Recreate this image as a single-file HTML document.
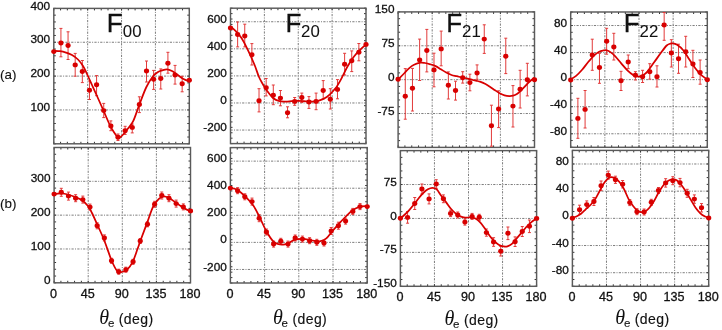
<!DOCTYPE html>
<html><head><meta charset="utf-8"><style>
html,body{margin:0;padding:0;background:#fff;}
body{width:722px;height:330px;overflow:hidden;position:relative;}
svg{position:absolute;left:0;top:0;filter:blur(0.35px);}
text{font-family:"Liberation Sans",sans-serif;fill:#111;stroke:#111;stroke-width:0.3px;}
.grid{fill:none;stroke:#666666;stroke-width:0.85;stroke-dasharray:2.2 1.3 1 1.3;}
.tick{fill:none;stroke:#333;stroke-width:1.0;}
.frame{fill:none;stroke:#5a5a5a;stroke-width:1.45;}
.err{fill:none;stroke:#e23a3a;stroke-width:1.0;}
.fit{fill:none;stroke:#d80000;stroke-width:1.75;stroke-linejoin:round;}
.mk ellipse{fill:#d80000;}
.yl{font-size:11.8px;text-anchor:end;}
.xl{font-size:12.6px;text-anchor:middle;}
.tF{font-size:26px;}
.tS{font-size:16.8px;stroke-width:0.05px;}
.th{font-family:"Liberation Serif",serif;font-style:italic;font-size:20px;stroke-width:0;}
.the{font-size:11.5px;stroke-width:0.1px;}
.deg{font-size:14px;letter-spacing:0.4px;stroke-width:0.15px;}
.lab{font-size:13.4px;stroke-width:0.12px;}
</style></head><body>
<svg width="722" height="330" viewBox="0 0 722 330">
<text x="0" y="79.4" class="lab">(a)</text>
<text x="0" y="208.1" class="lab">(b)</text>
<clipPath id="c1a"><rect x="53.8" y="8.4" width="135.5" height="135.4"/></clipPath>
<path d="M87.67,8.4V143.8M121.55,8.4V143.8M155.43,8.4V143.8M53.8,109.95H189.3M53.8,76.1H189.3M53.8,42.25H189.3" class="grid"/>
<path d="M53.8,143.8v-2.0M53.8,8.4v2.0M60.57,143.8v-2.0M60.57,8.4v2.0M67.35,143.8v-2.0M67.35,8.4v2.0M74.12,143.8v-2.0M74.12,8.4v2.0M80.9,143.8v-2.0M80.9,8.4v2.0M87.67,143.8v-2.0M87.67,8.4v2.0M94.45,143.8v-2.0M94.45,8.4v2.0M101.22,143.8v-2.0M101.22,8.4v2.0M108,143.8v-2.0M108,8.4v2.0M114.78,143.8v-2.0M114.78,8.4v2.0M121.55,143.8v-2.0M121.55,8.4v2.0M128.32,143.8v-2.0M128.32,8.4v2.0M135.1,143.8v-2.0M135.1,8.4v2.0M141.88,143.8v-2.0M141.88,8.4v2.0M148.65,143.8v-2.0M148.65,8.4v2.0M155.43,143.8v-2.0M155.43,8.4v2.0M162.2,143.8v-2.0M162.2,8.4v2.0M168.97,143.8v-2.0M168.97,8.4v2.0M175.75,143.8v-2.0M175.75,8.4v2.0M182.52,143.8v-2.0M182.52,8.4v2.0M189.3,143.8v-2.0M189.3,8.4v2.0M53.8,143.8h2.0M189.3,143.8h-2.0M53.8,137.03h2.0M189.3,137.03h-2.0M53.8,130.26h2.0M189.3,130.26h-2.0M53.8,123.49h2.0M189.3,123.49h-2.0M53.8,116.72h2.0M189.3,116.72h-2.0M53.8,109.95h2.0M189.3,109.95h-2.0M53.8,103.18h2.0M189.3,103.18h-2.0M53.8,96.41h2.0M189.3,96.41h-2.0M53.8,89.64h2.0M189.3,89.64h-2.0M53.8,82.87h2.0M189.3,82.87h-2.0M53.8,76.1h2.0M189.3,76.1h-2.0M53.8,69.33h2.0M189.3,69.33h-2.0M53.8,62.56h2.0M189.3,62.56h-2.0M53.8,55.79h2.0M189.3,55.79h-2.0M53.8,49.02h2.0M189.3,49.02h-2.0M53.8,42.25h2.0M189.3,42.25h-2.0M53.8,35.48h2.0M189.3,35.48h-2.0M53.8,28.71h2.0M189.3,28.71h-2.0M53.8,21.94h2.0M189.3,21.94h-2.0M53.8,15.17h2.0M189.3,15.17h-2.0M53.8,8.4h2.0M189.3,8.4h-2.0" class="tick"/>
<rect x="53.8" y="8.4" width="135.5" height="135.4" class="frame"/>
<g clip-path="url(#c1a)">
<path d="M60.93,28.4V56.8M59.43,28.4h3M59.43,56.8h3M68.06,31.8V59.5M66.56,31.8h3M66.56,59.5h3M75.19,53.4V76.2M73.69,53.4h3M73.69,76.2h3M82.33,60.5V82.6M80.83,60.5h3M80.83,82.6h3M89.46,81V99.5M87.96,81h3M87.96,99.5h3M96.59,75.6V95.7M95.09,75.6h3M95.09,95.7h3M103.72,103.4V117.6M102.22,103.4h3M102.22,117.6h3M110.85,120.9V130.7M109.35,120.9h3M109.35,130.7h3M117.98,134V140.5M116.48,134h3M116.48,140.5h3M125.12,126.3V134.4M123.62,126.3h3M123.62,134.4h3M132.25,124V132.9M130.75,124h3M130.75,132.9h3M139.38,96.8V112.6M137.88,96.8h3M137.88,112.6h3M146.51,61V82M145.01,61h3M145.01,82h3M153.64,70.4V89.4M152.14,70.4h3M152.14,89.4h3M160.77,68.9V89M159.27,68.9h3M159.27,89h3M167.91,52.3V73.2M166.41,52.3h3M166.41,73.2h3M175.04,65.4V84.1M173.54,65.4h3M173.54,84.1h3M182.17,76.3V91.8M180.67,76.3h3M180.67,91.8h3" class="err"/>
<path d="M53.8,50.8 C54.83,50.87 57.97,50.9 60,51.2 C62.03,51.5 64,51.97 66,52.6 C68,53.23 70,53.85 72,55 C74,56.15 76.17,57.67 78,59.5 C79.83,61.33 81.5,63.58 83,66 C84.5,68.42 85.5,70.83 87,74 C88.5,77.17 90.33,81.33 92,85 C93.67,88.67 95.08,91.73 97,96 C98.92,100.27 101.33,105.68 103.5,110.6 C105.67,115.52 108.25,121.9 110,125.5 C111.75,129.1 112.67,130.18 114,132.2 C115.33,134.22 116.83,136.87 118,137.6 C119.17,138.33 119.92,137.37 121,136.6 C122.08,135.83 123.33,134.35 124.5,133 C125.67,131.65 126.53,130.52 128,128.5 C129.47,126.48 131.33,125.08 133.3,120.9 C135.27,116.72 137.62,109.05 139.8,103.4 C141.98,97.75 144.2,91.53 146.4,87 C148.6,82.47 151.07,78.7 153,76.2 C154.93,73.7 156.5,72.97 158,72 C159.5,71.03 160.5,70.85 162,70.4 C163.5,69.95 165.33,69.2 167,69.3 C168.67,69.4 170.33,70.13 172,71 C173.67,71.87 175.08,73.15 177,74.5 C178.92,75.85 181.5,77.97 183.5,79.1 C185.5,80.23 188.08,80.93 189,81.3" class="fit"/>
</g>
<g class="mk"><ellipse cx="53.8" cy="51.6" rx="2.6" ry="2.45"/><ellipse cx="60.93" cy="43" rx="2.6" ry="2.45"/><ellipse cx="68.06" cy="45.5" rx="2.6" ry="2.45"/><ellipse cx="75.19" cy="64.9" rx="2.6" ry="2.45"/><ellipse cx="82.33" cy="71.5" rx="2.6" ry="2.45"/><ellipse cx="89.46" cy="90.3" rx="2.6" ry="2.45"/><ellipse cx="96.59" cy="84.8" rx="2.6" ry="2.45"/><ellipse cx="103.72" cy="110.6" rx="2.6" ry="2.45"/><ellipse cx="110.85" cy="125.9" rx="2.6" ry="2.45"/><ellipse cx="117.98" cy="137.2" rx="2.6" ry="2.45"/><ellipse cx="125.12" cy="130.7" rx="2.6" ry="2.45"/><ellipse cx="132.25" cy="127.4" rx="2.6" ry="2.45"/><ellipse cx="139.38" cy="104.5" rx="2.6" ry="2.45"/><ellipse cx="146.51" cy="71" rx="2.6" ry="2.45"/><ellipse cx="153.64" cy="79.3" rx="2.6" ry="2.45"/><ellipse cx="160.77" cy="78.5" rx="2.6" ry="2.45"/><ellipse cx="167.91" cy="63.2" rx="2.6" ry="2.45"/><ellipse cx="175.04" cy="75" rx="2.6" ry="2.45"/><ellipse cx="182.17" cy="83.7" rx="2.6" ry="2.45"/><ellipse cx="189.3" cy="80.2" rx="2.6" ry="2.45"/></g>
<text x="50.2" y="111.05" class="yl">100</text>
<text x="50.2" y="77.2" class="yl">200</text>
<text x="50.2" y="43.35" class="yl">300</text>
<text x="50.2" y="9.5" class="yl">400</text>
<text x="106.7" y="31.5" class="tF">F</text>
<clipPath id="c2a"><rect x="230.5" y="8.2" width="135.5" height="135.4"/></clipPath>
<path d="M264.38,8.2V143.6M298.25,8.2V143.6M332.12,8.2V143.6M230.5,130.06H366M230.5,102.98H366M230.5,75.9H366M230.5,48.82H366M230.5,21.74H366" class="grid"/>
<path d="M230.5,143.6v-2.0M230.5,8.2v2.0M237.28,143.6v-2.0M237.28,8.2v2.0M244.05,143.6v-2.0M244.05,8.2v2.0M250.82,143.6v-2.0M250.82,8.2v2.0M257.6,143.6v-2.0M257.6,8.2v2.0M264.38,143.6v-2.0M264.38,8.2v2.0M271.15,143.6v-2.0M271.15,8.2v2.0M277.93,143.6v-2.0M277.93,8.2v2.0M284.7,143.6v-2.0M284.7,8.2v2.0M291.48,143.6v-2.0M291.48,8.2v2.0M298.25,143.6v-2.0M298.25,8.2v2.0M305.02,143.6v-2.0M305.02,8.2v2.0M311.8,143.6v-2.0M311.8,8.2v2.0M318.57,143.6v-2.0M318.57,8.2v2.0M325.35,143.6v-2.0M325.35,8.2v2.0M332.12,143.6v-2.0M332.12,8.2v2.0M338.9,143.6v-2.0M338.9,8.2v2.0M345.68,143.6v-2.0M345.68,8.2v2.0M352.45,143.6v-2.0M352.45,8.2v2.0M359.23,143.6v-2.0M359.23,8.2v2.0M366,143.6v-2.0M366,8.2v2.0M230.5,143.6h2.0M366,143.6h-2.0M230.5,138.18h2.0M366,138.18h-2.0M230.5,132.77h2.0M366,132.77h-2.0M230.5,127.35h2.0M366,127.35h-2.0M230.5,121.94h2.0M366,121.94h-2.0M230.5,116.52h2.0M366,116.52h-2.0M230.5,111.1h2.0M366,111.1h-2.0M230.5,105.69h2.0M366,105.69h-2.0M230.5,100.27h2.0M366,100.27h-2.0M230.5,94.86h2.0M366,94.86h-2.0M230.5,89.44h2.0M366,89.44h-2.0M230.5,84.02h2.0M366,84.02h-2.0M230.5,78.61h2.0M366,78.61h-2.0M230.5,73.19h2.0M366,73.19h-2.0M230.5,67.78h2.0M366,67.78h-2.0M230.5,62.36h2.0M366,62.36h-2.0M230.5,56.94h2.0M366,56.94h-2.0M230.5,51.53h2.0M366,51.53h-2.0M230.5,46.11h2.0M366,46.11h-2.0M230.5,40.7h2.0M366,40.7h-2.0M230.5,35.28h2.0M366,35.28h-2.0M230.5,29.86h2.0M366,29.86h-2.0M230.5,24.45h2.0M366,24.45h-2.0M230.5,19.03h2.0M366,19.03h-2.0M230.5,13.62h2.0M366,13.62h-2.0M230.5,8.2h2.0M366,8.2h-2.0" class="tick"/>
<rect x="230.5" y="8.2" width="135.5" height="135.4" class="frame"/>
<g clip-path="url(#c2a)">
<path d="M237.63,22V46.9M236.13,22h3M236.13,46.9h3M244.76,24.2V46.9M243.26,24.2h3M243.26,46.9h3M251.89,43.6V65M250.39,43.6h3M250.39,65h3M259.03,88.7V111.9M257.53,88.7h3M257.53,111.9h3M266.16,78.5V95.9M264.66,78.5h3M264.66,95.9h3M273.29,85V104.7M271.79,85h3M271.79,104.7h3M280.42,90.5V105.8M278.92,90.5h3M278.92,105.8h3M287.55,106.8V117.8M286.05,106.8h3M286.05,117.8h3M294.68,97.5V105.3M293.18,97.5h3M293.18,105.3h3M301.82,93.1V102.5M300.32,93.1h3M300.32,102.5h3M308.95,96.6V108.4M307.45,96.6h3M307.45,108.4h3M316.08,93.1V109.7M314.58,93.1h3M314.58,109.7h3M323.21,80.6V98.8M321.71,80.6h3M321.71,98.8h3M330.34,88.7V109M328.84,88.7h3M328.84,109h3M337.47,79.6V98.8M335.97,79.6h3M335.97,98.8h3M344.61,53.3V75M343.11,53.3h3M343.11,75h3M351.74,50.9V71.6M350.24,50.9h3M350.24,71.6h3M358.87,43.5V60.8M357.37,43.5h3M357.37,60.8h3" class="err"/>
<path d="M230.5,26.8 C231.2,27.35 232.9,28.27 234.7,30.1 C236.5,31.93 239.12,34.52 241.3,37.8 C243.48,41.08 245.62,45.35 247.8,49.8 C249.98,54.25 252.53,59.97 254.4,64.5 C256.27,69.03 257.57,73.67 259,77 C260.43,80.33 261.77,82.33 263,84.5 C264.23,86.67 264.73,87.75 266.4,90 C268.07,92.25 270.82,96.13 273,98 C275.18,99.87 277.33,100.6 279.5,101.2 C281.67,101.8 284,101.6 286,101.6 C288,101.6 289.5,101.33 291.5,101.2 C293.5,101.07 295.4,100.78 298,100.8 C300.6,100.82 304.6,101.18 307.1,101.3 C309.6,101.42 311.18,101.55 313,101.5 C314.82,101.45 315.7,101.75 318,101 C320.3,100.25 323.88,99.12 326.8,97 C329.72,94.88 332.97,91.57 335.5,88.3 C338.03,85.03 340,81.03 342,77.4 C344,73.77 345.5,69.98 347.5,66.5 C349.5,63.02 351.82,59.37 354,56.5 C356.18,53.63 358.6,51.28 360.6,49.3 C362.6,47.32 365.1,45.38 366,44.6" class="fit"/>
</g>
<g class="mk"><ellipse cx="230.5" cy="27.9" rx="2.6" ry="2.45"/><ellipse cx="237.63" cy="34.5" rx="2.6" ry="2.45"/><ellipse cx="244.76" cy="36" rx="2.6" ry="2.45"/><ellipse cx="251.89" cy="54.8" rx="2.6" ry="2.45"/><ellipse cx="259.03" cy="100.7" rx="2.6" ry="2.45"/><ellipse cx="266.16" cy="87.8" rx="2.6" ry="2.45"/><ellipse cx="273.29" cy="95.3" rx="2.6" ry="2.45"/><ellipse cx="280.42" cy="98.1" rx="2.6" ry="2.45"/><ellipse cx="287.55" cy="112.7" rx="2.6" ry="2.45"/><ellipse cx="294.68" cy="101.4" rx="2.6" ry="2.45"/><ellipse cx="301.82" cy="97.5" rx="2.6" ry="2.45"/><ellipse cx="308.95" cy="102" rx="2.6" ry="2.45"/><ellipse cx="316.08" cy="101.4" rx="2.6" ry="2.45"/><ellipse cx="323.21" cy="90.5" rx="2.6" ry="2.45"/><ellipse cx="330.34" cy="99.2" rx="2.6" ry="2.45"/><ellipse cx="337.47" cy="89.4" rx="2.6" ry="2.45"/><ellipse cx="344.61" cy="64.2" rx="2.6" ry="2.45"/><ellipse cx="351.74" cy="60.8" rx="2.6" ry="2.45"/><ellipse cx="358.87" cy="52.2" rx="2.6" ry="2.45"/><ellipse cx="366" cy="44.4" rx="2.6" ry="2.45"/></g>
<text x="226.9" y="131.16" class="yl">-200</text>
<text x="226.9" y="104.08" class="yl">0</text>
<text x="226.9" y="77" class="yl">200</text>
<text x="226.9" y="49.92" class="yl">400</text>
<text x="226.9" y="22.84" class="yl">600</text>
<text x="285.6" y="31.5" class="tF">F</text>
<clipPath id="c3a"><rect x="398.1" y="11.9" width="136.4" height="135.5"/></clipPath>
<path d="M432.2,11.9V147.4M466.3,11.9V147.4M500.4,11.9V147.4M398.1,113.53H534.5M398.1,79.65H534.5M398.1,45.78H534.5" class="grid"/>
<path d="M398.1,147.4v-2.0M398.1,11.9v2.0M404.92,147.4v-2.0M404.92,11.9v2.0M411.74,147.4v-2.0M411.74,11.9v2.0M418.56,147.4v-2.0M418.56,11.9v2.0M425.38,147.4v-2.0M425.38,11.9v2.0M432.2,147.4v-2.0M432.2,11.9v2.0M439.02,147.4v-2.0M439.02,11.9v2.0M445.84,147.4v-2.0M445.84,11.9v2.0M452.66,147.4v-2.0M452.66,11.9v2.0M459.48,147.4v-2.0M459.48,11.9v2.0M466.3,147.4v-2.0M466.3,11.9v2.0M473.12,147.4v-2.0M473.12,11.9v2.0M479.94,147.4v-2.0M479.94,11.9v2.0M486.76,147.4v-2.0M486.76,11.9v2.0M493.58,147.4v-2.0M493.58,11.9v2.0M500.4,147.4v-2.0M500.4,11.9v2.0M507.22,147.4v-2.0M507.22,11.9v2.0M514.04,147.4v-2.0M514.04,11.9v2.0M520.86,147.4v-2.0M520.86,11.9v2.0M527.68,147.4v-2.0M527.68,11.9v2.0M534.5,147.4v-2.0M534.5,11.9v2.0M398.1,147.4h2.0M534.5,147.4h-2.0M398.1,140.62h2.0M534.5,140.62h-2.0M398.1,133.85h2.0M534.5,133.85h-2.0M398.1,127.08h2.0M534.5,127.08h-2.0M398.1,120.3h2.0M534.5,120.3h-2.0M398.1,113.53h2.0M534.5,113.53h-2.0M398.1,106.75h2.0M534.5,106.75h-2.0M398.1,99.98h2.0M534.5,99.98h-2.0M398.1,93.2h2.0M534.5,93.2h-2.0M398.1,86.43h2.0M534.5,86.43h-2.0M398.1,79.65h2.0M534.5,79.65h-2.0M398.1,72.88h2.0M534.5,72.88h-2.0M398.1,66.1h2.0M534.5,66.1h-2.0M398.1,59.33h2.0M534.5,59.33h-2.0M398.1,52.55h2.0M534.5,52.55h-2.0M398.1,45.78h2.0M534.5,45.78h-2.0M398.1,39h2.0M534.5,39h-2.0M398.1,32.23h2.0M534.5,32.23h-2.0M398.1,25.45h2.0M534.5,25.45h-2.0M398.1,18.68h2.0M534.5,18.68h-2.0M398.1,11.9h2.0M534.5,11.9h-2.0" class="tick"/>
<rect x="398.1" y="11.9" width="136.4" height="135.5" class="frame"/>
<g clip-path="url(#c3a)">
<path d="M405.28,68.6V119.2M403.78,68.6h3M403.78,119.2h3M412.46,68.4V111M410.96,68.4h3M410.96,111h3M419.64,39.1V80.5M418.14,39.1h3M418.14,80.5h3M426.82,29.4V71.9M425.32,29.4h3M425.32,71.9h3M433.99,53.2V86.8M432.49,53.2h3M432.49,86.8h3M441.17,31.1V65.8M439.67,31.1h3M439.67,65.8h3M448.35,71.9V99M446.85,71.9h3M446.85,99h3M455.53,81.2V100.1M454.03,81.2h3M454.03,100.1h3M462.71,71.7V83.1M461.21,71.7h3M461.21,83.1h3M469.89,74.2V90.8M468.39,74.2h3M468.39,90.8h3M477.07,64.9V79.3M475.57,64.9h3M475.57,79.3h3M484.25,24.8V53.4M482.75,24.8h3M482.75,53.4h3M491.43,105.2V146.2M489.93,105.2h3M489.93,146.2h3M498.61,90.8V127.6M497.11,90.8h3M497.11,127.6h3M505.78,38.2V73.6M504.28,38.2h3M504.28,73.6h3M512.96,85.6V127M511.46,85.6h3M511.46,127h3M520.14,70.3V108M518.64,70.3h3M518.64,108h3M527.32,63.3V95.9M525.82,63.3h3M525.82,95.9h3" class="err"/>
<path d="M398.2,79.3 C399.25,78.25 402.7,74.83 404.5,73 C406.3,71.17 407.42,69.67 409,68.3 C410.58,66.93 412.07,65.75 414,64.8 C415.93,63.85 418.77,62.9 420.6,62.6 C422.43,62.3 423.38,62.72 425,63 C426.62,63.28 428.53,63.78 430.3,64.3 C432.07,64.82 433.83,65.27 435.6,66.1 C437.37,66.93 439.13,68.23 440.9,69.3 C442.67,70.37 444.43,71.55 446.2,72.5 C447.97,73.45 449.73,74.38 451.5,75 C453.27,75.62 455.02,75.78 456.8,76.2 C458.58,76.62 460.42,77.1 462.2,77.5 C463.98,77.9 465.73,78.18 467.5,78.6 C469.27,79.02 471.3,79.63 472.8,80 C474.3,80.37 475.2,80.48 476.5,80.8 C477.8,81.12 479.1,81.37 480.6,81.9 C482.1,82.43 483.9,83.17 485.5,84 C487.1,84.83 488.62,85.87 490.2,86.9 C491.78,87.93 493.42,89.15 495,90.2 C496.58,91.25 498.12,92.35 499.7,93.2 C501.28,94.05 502.9,94.82 504.5,95.3 C506.1,95.78 507.88,96.03 509.3,96.1 C510.72,96.17 511.73,96.05 513,95.7 C514.27,95.35 515.65,94.78 516.9,94 C518.15,93.22 519.23,92.18 520.5,91 C521.77,89.82 523.17,88.3 524.5,86.9 C525.83,85.5 527.22,83.87 528.5,82.6 C529.78,81.33 531.25,80.13 532.2,79.3 C533.15,78.47 533.87,77.88 534.2,77.6" class="fit"/>
</g>
<g class="mk"><ellipse cx="398.1" cy="79.3" rx="2.6" ry="2.45"/><ellipse cx="405.28" cy="96.2" rx="2.6" ry="2.45"/><ellipse cx="412.46" cy="88.2" rx="2.6" ry="2.45"/><ellipse cx="419.64" cy="59.9" rx="2.6" ry="2.45"/><ellipse cx="426.82" cy="50.5" rx="2.6" ry="2.45"/><ellipse cx="433.99" cy="69.9" rx="2.6" ry="2.45"/><ellipse cx="441.17" cy="48.9" rx="2.6" ry="2.45"/><ellipse cx="448.35" cy="85.3" rx="2.6" ry="2.45"/><ellipse cx="455.53" cy="90.5" rx="2.6" ry="2.45"/><ellipse cx="462.71" cy="77.8" rx="2.6" ry="2.45"/><ellipse cx="469.89" cy="82.6" rx="2.6" ry="2.45"/><ellipse cx="477.07" cy="73" rx="2.6" ry="2.45"/><ellipse cx="484.25" cy="39.1" rx="2.6" ry="2.45"/><ellipse cx="491.43" cy="125.8" rx="2.6" ry="2.45"/><ellipse cx="498.61" cy="109" rx="2.6" ry="2.45"/><ellipse cx="505.78" cy="56.3" rx="2.6" ry="2.45"/><ellipse cx="512.96" cy="106.1" rx="2.6" ry="2.45"/><ellipse cx="520.14" cy="89.2" rx="2.6" ry="2.45"/><ellipse cx="527.32" cy="79.7" rx="2.6" ry="2.45"/><ellipse cx="534.5" cy="79.7" rx="2.6" ry="2.45"/></g>
<text x="394.5" y="114.62" class="yl">-75</text>
<text x="394.5" y="80.75" class="yl">0</text>
<text x="394.5" y="46.88" class="yl">75</text>
<text x="394.5" y="12.5" class="yl">150</text>
<text x="446.2" y="31.5" class="tF">F</text>
<clipPath id="c4a"><rect x="570.7" y="12" width="136.6" height="135.3"/></clipPath>
<path d="M604.85,12V147.3M639,12V147.3M673.15,12V147.3M570.7,133.77H707.3M570.7,106.71H707.3M570.7,79.65H707.3M570.7,52.59H707.3M570.7,25.53H707.3" class="grid"/>
<path d="M570.7,147.3v-2.0M570.7,12v2.0M577.53,147.3v-2.0M577.53,12v2.0M584.36,147.3v-2.0M584.36,12v2.0M591.19,147.3v-2.0M591.19,12v2.0M598.02,147.3v-2.0M598.02,12v2.0M604.85,147.3v-2.0M604.85,12v2.0M611.68,147.3v-2.0M611.68,12v2.0M618.51,147.3v-2.0M618.51,12v2.0M625.34,147.3v-2.0M625.34,12v2.0M632.17,147.3v-2.0M632.17,12v2.0M639,147.3v-2.0M639,12v2.0M645.83,147.3v-2.0M645.83,12v2.0M652.66,147.3v-2.0M652.66,12v2.0M659.49,147.3v-2.0M659.49,12v2.0M666.32,147.3v-2.0M666.32,12v2.0M673.15,147.3v-2.0M673.15,12v2.0M679.98,147.3v-2.0M679.98,12v2.0M686.81,147.3v-2.0M686.81,12v2.0M693.64,147.3v-2.0M693.64,12v2.0M700.47,147.3v-2.0M700.47,12v2.0M707.3,147.3v-2.0M707.3,12v2.0M570.7,147.3h2.0M707.3,147.3h-2.0M570.7,140.54h2.0M707.3,140.54h-2.0M570.7,133.77h2.0M707.3,133.77h-2.0M570.7,127.01h2.0M707.3,127.01h-2.0M570.7,120.24h2.0M707.3,120.24h-2.0M570.7,113.48h2.0M707.3,113.48h-2.0M570.7,106.71h2.0M707.3,106.71h-2.0M570.7,99.95h2.0M707.3,99.95h-2.0M570.7,93.18h2.0M707.3,93.18h-2.0M570.7,86.42h2.0M707.3,86.42h-2.0M570.7,79.65h2.0M707.3,79.65h-2.0M570.7,72.89h2.0M707.3,72.89h-2.0M570.7,66.12h2.0M707.3,66.12h-2.0M570.7,59.36h2.0M707.3,59.36h-2.0M570.7,52.59h2.0M707.3,52.59h-2.0M570.7,45.83h2.0M707.3,45.83h-2.0M570.7,39.06h2.0M707.3,39.06h-2.0M570.7,32.3h2.0M707.3,32.3h-2.0M570.7,25.53h2.0M707.3,25.53h-2.0M570.7,18.77h2.0M707.3,18.77h-2.0M570.7,12h2.0M707.3,12h-2.0" class="tick"/>
<rect x="570.7" y="12" width="136.6" height="135.3" class="frame"/>
<g clip-path="url(#c4a)">
<path d="M577.89,98.3V138.3M576.39,98.3h3M576.39,138.3h3M585.08,90.5V128M583.58,90.5h3M583.58,128h3M592.27,39.2V70.3M590.77,39.2h3M590.77,70.3h3M599.46,53.3V83.3M597.96,53.3h3M597.96,83.3h3M606.65,28.3V54.2M605.15,28.3h3M605.15,54.2h3M613.84,33.3V60M612.34,33.3h3M612.34,60h3M621.03,71.3V90.5M619.53,71.3h3M619.53,90.5h3M628.22,55V68.7M626.72,55h3M626.72,68.7h3M635.41,71.7V80M633.91,71.7h3M633.91,80h3M642.59,70.3V82.5M641.09,70.3h3M641.09,82.5h3M649.78,63.7V79.2M648.28,63.7h3M648.28,79.2h3M656.97,65.8V87M655.47,65.8h3M655.47,87h3M664.16,12.5V40.3M662.66,12.5h3M662.66,40.3h3M671.35,39.7V67M669.85,39.7h3M669.85,67h3M678.54,44.2V73.3M677.04,44.2h3M677.04,73.3h3M685.73,36.3V67M684.23,36.3h3M684.23,67h3M692.92,50.3V77.5M691.42,50.3h3M691.42,77.5h3M700.11,60V84.2M698.61,60h3M698.61,84.2h3" class="err"/>
<path d="M570.7,79.3 C571.6,78.73 574.2,77.48 576.1,75.9 C578,74.32 580.08,72.12 582.1,69.8 C584.12,67.48 586.18,64.42 588.2,62 C590.22,59.58 592.38,57.02 594.2,55.3 C596.02,53.58 597.6,52.5 599.1,51.7 C600.6,50.9 601.92,50.73 603.2,50.5 C604.48,50.27 605.58,50.03 606.8,50.3 C608.02,50.57 609.08,51.08 610.5,52.1 C611.92,53.12 613.48,54.48 615.3,56.4 C617.12,58.32 619.38,61.28 621.4,63.6 C623.42,65.92 625.38,68.37 627.4,70.3 C629.42,72.23 631.88,74.18 633.5,75.2 C635.12,76.22 635.88,76.23 637.1,76.4 C638.32,76.57 639.57,76.57 640.8,76.2 C642.03,75.83 643.37,75 644.5,74.2 C645.63,73.4 645.93,73.47 647.6,71.4 C649.27,69.33 652.22,64.98 654.5,61.8 C656.78,58.62 659.27,55.02 661.3,52.3 C663.33,49.58 665.25,46.92 666.7,45.5 C668.15,44.08 669.03,44.17 670,43.8 C670.97,43.43 671.32,43.13 672.5,43.3 C673.68,43.47 675.32,43.65 677.1,44.8 C678.88,45.95 681.18,47.8 683.2,50.2 C685.22,52.6 687.18,56.18 689.2,59.2 C691.22,62.22 693.28,65.63 695.3,68.3 C697.32,70.97 699.3,73.35 701.3,75.2 C703.3,77.05 706.3,78.7 707.3,79.4" class="fit"/>
</g>
<g class="mk"><ellipse cx="570.7" cy="80" rx="2.6" ry="2.45"/><ellipse cx="577.89" cy="118.4" rx="2.6" ry="2.45"/><ellipse cx="585.08" cy="109.4" rx="2.6" ry="2.45"/><ellipse cx="592.27" cy="55" rx="2.6" ry="2.45"/><ellipse cx="599.46" cy="67.5" rx="2.6" ry="2.45"/><ellipse cx="606.65" cy="41.2" rx="2.6" ry="2.45"/><ellipse cx="613.84" cy="47" rx="2.6" ry="2.45"/><ellipse cx="621.03" cy="80.8" rx="2.6" ry="2.45"/><ellipse cx="628.22" cy="62" rx="2.6" ry="2.45"/><ellipse cx="635.41" cy="75.3" rx="2.6" ry="2.45"/><ellipse cx="642.59" cy="76.7" rx="2.6" ry="2.45"/><ellipse cx="649.78" cy="71.7" rx="2.6" ry="2.45"/><ellipse cx="656.97" cy="76.7" rx="2.6" ry="2.45"/><ellipse cx="664.16" cy="25" rx="2.6" ry="2.45"/><ellipse cx="671.35" cy="53" rx="2.6" ry="2.45"/><ellipse cx="678.54" cy="58.8" rx="2.6" ry="2.45"/><ellipse cx="685.73" cy="51.7" rx="2.6" ry="2.45"/><ellipse cx="692.92" cy="64" rx="2.6" ry="2.45"/><ellipse cx="700.11" cy="72.5" rx="2.6" ry="2.45"/><ellipse cx="707.3" cy="79.7" rx="2.6" ry="2.45"/></g>
<text x="567.1" y="134.87" class="yl">-80</text>
<text x="567.1" y="107.81" class="yl">-40</text>
<text x="567.1" y="80.75" class="yl">0</text>
<text x="567.1" y="53.69" class="yl">40</text>
<text x="567.1" y="26.63" class="yl">80</text>
<text x="623.8" y="31.5" class="tF">F</text>
<clipPath id="c1b"><rect x="54.1" y="147.5" width="136.4" height="135.3"/></clipPath>
<path d="M88.2,147.5V282.8M122.3,147.5V282.8M156.4,147.5V282.8M54.1,248.98H190.5M54.1,215.15H190.5M54.1,181.32H190.5" class="grid"/>
<path d="M54.1,282.8v-2.0M54.1,147.5v2.0M60.92,282.8v-2.0M60.92,147.5v2.0M67.74,282.8v-2.0M67.74,147.5v2.0M74.56,282.8v-2.0M74.56,147.5v2.0M81.38,282.8v-2.0M81.38,147.5v2.0M88.2,282.8v-2.0M88.2,147.5v2.0M95.02,282.8v-2.0M95.02,147.5v2.0M101.84,282.8v-2.0M101.84,147.5v2.0M108.66,282.8v-2.0M108.66,147.5v2.0M115.48,282.8v-2.0M115.48,147.5v2.0M122.3,282.8v-2.0M122.3,147.5v2.0M129.12,282.8v-2.0M129.12,147.5v2.0M135.94,282.8v-2.0M135.94,147.5v2.0M142.76,282.8v-2.0M142.76,147.5v2.0M149.58,282.8v-2.0M149.58,147.5v2.0M156.4,282.8v-2.0M156.4,147.5v2.0M163.22,282.8v-2.0M163.22,147.5v2.0M170.04,282.8v-2.0M170.04,147.5v2.0M176.86,282.8v-2.0M176.86,147.5v2.0M183.68,282.8v-2.0M183.68,147.5v2.0M190.5,282.8v-2.0M190.5,147.5v2.0M54.1,282.8h2.0M190.5,282.8h-2.0M54.1,276.04h2.0M190.5,276.04h-2.0M54.1,269.27h2.0M190.5,269.27h-2.0M54.1,262.5h2.0M190.5,262.5h-2.0M54.1,255.74h2.0M190.5,255.74h-2.0M54.1,248.98h2.0M190.5,248.98h-2.0M54.1,242.21h2.0M190.5,242.21h-2.0M54.1,235.44h2.0M190.5,235.44h-2.0M54.1,228.68h2.0M190.5,228.68h-2.0M54.1,221.92h2.0M190.5,221.92h-2.0M54.1,215.15h2.0M190.5,215.15h-2.0M54.1,208.38h2.0M190.5,208.38h-2.0M54.1,201.62h2.0M190.5,201.62h-2.0M54.1,194.86h2.0M190.5,194.86h-2.0M54.1,188.09h2.0M190.5,188.09h-2.0M54.1,181.32h2.0M190.5,181.32h-2.0M54.1,174.56h2.0M190.5,174.56h-2.0M54.1,167.8h2.0M190.5,167.8h-2.0M54.1,161.03h2.0M190.5,161.03h-2.0M54.1,154.27h2.0M190.5,154.27h-2.0M54.1,147.5h2.0M190.5,147.5h-2.0" class="tick"/>
<rect x="54.1" y="147.5" width="136.4" height="135.3" class="frame"/>
<g clip-path="url(#c1b)">
<path d="M61.28,188.3V196.3M59.78,188.3h3M59.78,196.3h3M68.46,192.1V200.1M66.96,192.1h3M66.96,200.1h3M75.64,194.7V201.7M74.14,194.7h3M74.14,201.7h3M82.82,196.1V203.1M81.32,196.1h3M81.32,203.1h3M89.99,204.1V210.1M88.49,204.1h3M88.49,210.1h3M97.17,222.8V228.8M95.67,222.8h3M95.67,228.8h3M104.35,234.9V240.9M102.85,234.9h3M102.85,240.9h3M111.53,258.3V263.3M110.03,258.3h3M110.03,263.3h3M118.71,269.2V274.2M117.21,269.2h3M117.21,274.2h3M125.89,267.2V272.2M124.39,267.2h3M124.39,272.2h3M133.07,259.3V264.3M131.57,259.3h3M131.57,264.3h3M140.25,238.5V243.5M138.75,238.5h3M138.75,243.5h3M147.43,221.8V226.8M145.93,221.8h3M145.93,226.8h3M154.61,201.3V207.3M153.11,201.3h3M153.11,207.3h3M161.78,192V199M160.28,192h3M160.28,199h3M168.96,194.7V201.7M167.46,194.7h3M167.46,201.7h3M176.14,200.1V207.1M174.64,200.1h3M174.64,207.1h3M183.32,203.9V209.9M181.82,203.9h3M181.82,209.9h3" class="err"/>
<path d="M54.3,194 C55.42,193.92 58.72,193.42 61,193.5 C63.28,193.58 65.67,193.92 68,194.5 C70.33,195.08 72.67,196.05 75,197 C77.33,197.95 79.83,198.7 82,200.2 C84.17,201.7 86.33,203.87 88,206 C89.67,208.13 90.5,210 92,213 C93.5,216 94.98,219.5 97,224 C99.02,228.5 101.67,233.92 104.1,240 C106.53,246.08 109.45,255.38 111.6,260.5 C113.75,265.62 115.3,268.78 117,270.7 C118.7,272.62 120.08,272.23 121.8,272 C123.52,271.77 125.48,271 127.3,269.3 C129.12,267.6 131,265.18 132.7,261.8 C134.4,258.42 136.2,252.55 137.5,249 C138.8,245.45 138.95,244.73 140.5,240.5 C142.05,236.27 144.68,229.28 146.8,223.6 C148.92,217.92 151.23,210.48 153.2,206.4 C155.17,202.32 156.93,200.77 158.6,199.1 C160.27,197.43 161.53,196.62 163.2,196.4 C164.87,196.18 166.33,196.65 168.6,197.8 C170.87,198.95 174.22,201.57 176.8,203.3 C179.38,205.03 181.82,206.87 184.1,208.2 C186.38,209.53 189.43,210.78 190.5,211.3" class="fit"/>
</g>
<g class="mk"><ellipse cx="54.1" cy="194.1" rx="2.6" ry="2.45"/><ellipse cx="61.28" cy="192.3" rx="2.6" ry="2.45"/><ellipse cx="68.46" cy="196.1" rx="2.6" ry="2.45"/><ellipse cx="75.64" cy="198.2" rx="2.6" ry="2.45"/><ellipse cx="82.82" cy="199.6" rx="2.6" ry="2.45"/><ellipse cx="89.99" cy="207.1" rx="2.6" ry="2.45"/><ellipse cx="97.17" cy="225.8" rx="2.6" ry="2.45"/><ellipse cx="104.35" cy="237.9" rx="2.6" ry="2.45"/><ellipse cx="111.53" cy="260.8" rx="2.6" ry="2.45"/><ellipse cx="118.71" cy="271.7" rx="2.6" ry="2.45"/><ellipse cx="125.89" cy="269.7" rx="2.6" ry="2.45"/><ellipse cx="133.07" cy="261.8" rx="2.6" ry="2.45"/><ellipse cx="140.25" cy="241" rx="2.6" ry="2.45"/><ellipse cx="147.43" cy="224.3" rx="2.6" ry="2.45"/><ellipse cx="154.61" cy="204.3" rx="2.6" ry="2.45"/><ellipse cx="161.78" cy="195.5" rx="2.6" ry="2.45"/><ellipse cx="168.96" cy="198.2" rx="2.6" ry="2.45"/><ellipse cx="176.14" cy="203.6" rx="2.6" ry="2.45"/><ellipse cx="183.32" cy="206.9" rx="2.6" ry="2.45"/><ellipse cx="190.5" cy="210.9" rx="2.6" ry="2.45"/></g>
<text x="50.5" y="283.9" class="yl">0</text>
<text x="50.5" y="250.08" class="yl">100</text>
<text x="50.5" y="216.25" class="yl">200</text>
<text x="50.5" y="182.42" class="yl">300</text>
<text x="53.6" y="298.1" class="xl">0</text>
<text x="87.7" y="298.1" class="xl">45</text>
<text x="121.8" y="298.1" class="xl">90</text>
<text x="155.9" y="298.1" class="xl">135</text>
<text x="190" y="298.1" class="xl">180</text>
<clipPath id="c2b"><rect x="230.4" y="147.6" width="136.8" height="135.4"/></clipPath>
<path d="M264.6,147.6V283M298.8,147.6V283M333,147.6V283M230.4,269.46H367.2M230.4,242.38H367.2M230.4,215.3H367.2M230.4,188.22H367.2M230.4,161.14H367.2" class="grid"/>
<path d="M230.4,283v-2.0M230.4,147.6v2.0M237.24,283v-2.0M237.24,147.6v2.0M244.08,283v-2.0M244.08,147.6v2.0M250.92,283v-2.0M250.92,147.6v2.0M257.76,283v-2.0M257.76,147.6v2.0M264.6,283v-2.0M264.6,147.6v2.0M271.44,283v-2.0M271.44,147.6v2.0M278.28,283v-2.0M278.28,147.6v2.0M285.12,283v-2.0M285.12,147.6v2.0M291.96,283v-2.0M291.96,147.6v2.0M298.8,283v-2.0M298.8,147.6v2.0M305.64,283v-2.0M305.64,147.6v2.0M312.48,283v-2.0M312.48,147.6v2.0M319.32,283v-2.0M319.32,147.6v2.0M326.16,283v-2.0M326.16,147.6v2.0M333,283v-2.0M333,147.6v2.0M339.84,283v-2.0M339.84,147.6v2.0M346.68,283v-2.0M346.68,147.6v2.0M353.52,283v-2.0M353.52,147.6v2.0M360.36,283v-2.0M360.36,147.6v2.0M367.2,283v-2.0M367.2,147.6v2.0M230.4,283h2.0M367.2,283h-2.0M230.4,277.58h2.0M367.2,277.58h-2.0M230.4,272.17h2.0M367.2,272.17h-2.0M230.4,266.75h2.0M367.2,266.75h-2.0M230.4,261.34h2.0M367.2,261.34h-2.0M230.4,255.92h2.0M367.2,255.92h-2.0M230.4,250.5h2.0M367.2,250.5h-2.0M230.4,245.09h2.0M367.2,245.09h-2.0M230.4,239.67h2.0M367.2,239.67h-2.0M230.4,234.26h2.0M367.2,234.26h-2.0M230.4,228.84h2.0M367.2,228.84h-2.0M230.4,223.42h2.0M367.2,223.42h-2.0M230.4,218.01h2.0M367.2,218.01h-2.0M230.4,212.59h2.0M367.2,212.59h-2.0M230.4,207.18h2.0M367.2,207.18h-2.0M230.4,201.76h2.0M367.2,201.76h-2.0M230.4,196.34h2.0M367.2,196.34h-2.0M230.4,190.93h2.0M367.2,190.93h-2.0M230.4,185.51h2.0M367.2,185.51h-2.0M230.4,180.1h2.0M367.2,180.1h-2.0M230.4,174.68h2.0M367.2,174.68h-2.0M230.4,169.26h2.0M367.2,169.26h-2.0M230.4,163.85h2.0M367.2,163.85h-2.0M230.4,158.43h2.0M367.2,158.43h-2.0M230.4,153.02h2.0M367.2,153.02h-2.0M230.4,147.6h2.0M367.2,147.6h-2.0" class="tick"/>
<rect x="230.4" y="147.6" width="136.8" height="135.4" class="frame"/>
<g clip-path="url(#c2b)">
<path d="M237.6,187.7V193.7M236.1,187.7h3M236.1,193.7h3M244.8,193.8V199.8M243.3,193.8h3M243.3,199.8h3M252,198.1V205.1M250.5,198.1h3M250.5,205.1h3M259.2,214.7V221.7M257.7,214.7h3M257.7,221.7h3M266.4,229V235M264.9,229h3M264.9,235h3M273.6,241.1V247.1M272.1,241.1h3M272.1,247.1h3M280.8,238.3V244.3M279.3,238.3h3M279.3,244.3h3M288,241.1V247.1M286.5,241.1h3M286.5,247.1h3M295.2,235V241M293.7,235h3M293.7,241h3M302.4,236.1V242.1M300.9,236.1h3M300.9,242.1h3M309.6,237.7V243.7M308.1,237.7h3M308.1,243.7h3M316.8,239.3V245.3M315.3,239.3h3M315.3,245.3h3M324,240V246M322.5,240h3M322.5,246h3M331.2,227.5V234.5M329.7,227.5h3M329.7,234.5h3M338.4,222.2V229.2M336.9,222.2h3M336.9,229.2h3M345.6,218.1V224.1M344.1,218.1h3M344.1,224.1h3M352.8,208.4V214.4M351.3,208.4h3M351.3,214.4h3M360,203.6V209.6M358.5,203.6h3M358.5,209.6h3" class="err"/>
<path d="M230.5,188 C231.57,188.3 234.37,188.33 236.9,189.8 C239.43,191.27 242.97,194.17 245.7,196.8 C248.43,199.43 250.95,202.13 253.3,205.6 C255.65,209.07 257.62,213.32 259.8,217.6 C261.98,221.88 264.2,227.38 266.4,231.3 C268.6,235.22 271,238.95 273,241.1 C275,243.25 276.4,243.67 278.4,244.2 C280.4,244.73 283.07,244.63 285,244.3 C286.93,243.97 288.33,242.98 290,242.2 C291.67,241.42 292.8,240.17 295,239.6 C297.2,239.03 300.3,238.65 303.2,238.8 C306.1,238.95 309.52,240.1 312.4,240.5 C315.28,240.9 318.18,241.55 320.5,241.2 C322.82,240.85 324.38,240.02 326.3,238.4 C328.22,236.78 329.9,233.93 332,231.5 C334.1,229.07 336.6,226.3 338.9,223.8 C341.2,221.3 343.48,218.8 345.8,216.5 C348.12,214.2 350.48,211.62 352.8,210 C355.12,208.38 357.38,207.45 359.7,206.8 C362.02,206.15 365.53,206.22 366.7,206.1" class="fit"/>
</g>
<g class="mk"><ellipse cx="230.4" cy="188.1" rx="2.6" ry="2.45"/><ellipse cx="237.6" cy="190.7" rx="2.6" ry="2.45"/><ellipse cx="244.8" cy="196.8" rx="2.6" ry="2.45"/><ellipse cx="252" cy="201.6" rx="2.6" ry="2.45"/><ellipse cx="259.2" cy="218.2" rx="2.6" ry="2.45"/><ellipse cx="266.4" cy="232" rx="2.6" ry="2.45"/><ellipse cx="273.6" cy="244.1" rx="2.6" ry="2.45"/><ellipse cx="280.8" cy="241.3" rx="2.6" ry="2.45"/><ellipse cx="288" cy="244.1" rx="2.6" ry="2.45"/><ellipse cx="295.2" cy="238" rx="2.6" ry="2.45"/><ellipse cx="302.4" cy="239.1" rx="2.6" ry="2.45"/><ellipse cx="309.6" cy="240.7" rx="2.6" ry="2.45"/><ellipse cx="316.8" cy="242.3" rx="2.6" ry="2.45"/><ellipse cx="324" cy="243" rx="2.6" ry="2.45"/><ellipse cx="331.2" cy="231" rx="2.6" ry="2.45"/><ellipse cx="338.4" cy="225.7" rx="2.6" ry="2.45"/><ellipse cx="345.6" cy="221.1" rx="2.6" ry="2.45"/><ellipse cx="352.8" cy="211.4" rx="2.6" ry="2.45"/><ellipse cx="360" cy="206.6" rx="2.6" ry="2.45"/><ellipse cx="367.2" cy="206.6" rx="2.6" ry="2.45"/></g>
<text x="226.8" y="270.56" class="yl">-200</text>
<text x="226.8" y="243.48" class="yl">0</text>
<text x="226.8" y="216.4" class="yl">200</text>
<text x="226.8" y="189.32" class="yl">400</text>
<text x="226.8" y="162.24" class="yl">600</text>
<text x="229.9" y="298.3" class="xl">0</text>
<text x="264.1" y="298.3" class="xl">45</text>
<text x="298.3" y="298.3" class="xl">90</text>
<text x="332.5" y="298.3" class="xl">135</text>
<text x="366.7" y="298.3" class="xl">180</text>
<clipPath id="c3b"><rect x="400.4" y="150.6" width="136.2" height="135.7"/></clipPath>
<path d="M434.45,150.6V286.3M468.5,150.6V286.3M502.55,150.6V286.3M400.4,252.38H536.6M400.4,218.45H536.6M400.4,184.53H536.6" class="grid"/>
<path d="M400.4,286.3v-2.0M400.4,150.6v2.0M407.21,286.3v-2.0M407.21,150.6v2.0M414.02,286.3v-2.0M414.02,150.6v2.0M420.83,286.3v-2.0M420.83,150.6v2.0M427.64,286.3v-2.0M427.64,150.6v2.0M434.45,286.3v-2.0M434.45,150.6v2.0M441.26,286.3v-2.0M441.26,150.6v2.0M448.07,286.3v-2.0M448.07,150.6v2.0M454.88,286.3v-2.0M454.88,150.6v2.0M461.69,286.3v-2.0M461.69,150.6v2.0M468.5,286.3v-2.0M468.5,150.6v2.0M475.31,286.3v-2.0M475.31,150.6v2.0M482.12,286.3v-2.0M482.12,150.6v2.0M488.93,286.3v-2.0M488.93,150.6v2.0M495.74,286.3v-2.0M495.74,150.6v2.0M502.55,286.3v-2.0M502.55,150.6v2.0M509.36,286.3v-2.0M509.36,150.6v2.0M516.17,286.3v-2.0M516.17,150.6v2.0M522.98,286.3v-2.0M522.98,150.6v2.0M529.79,286.3v-2.0M529.79,150.6v2.0M536.6,286.3v-2.0M536.6,150.6v2.0M400.4,286.3h2.0M536.6,286.3h-2.0M400.4,279.51h2.0M536.6,279.51h-2.0M400.4,272.73h2.0M536.6,272.73h-2.0M400.4,265.94h2.0M536.6,265.94h-2.0M400.4,259.16h2.0M536.6,259.16h-2.0M400.4,252.38h2.0M536.6,252.38h-2.0M400.4,245.59h2.0M536.6,245.59h-2.0M400.4,238.81h2.0M536.6,238.81h-2.0M400.4,232.02h2.0M536.6,232.02h-2.0M400.4,225.24h2.0M536.6,225.24h-2.0M400.4,218.45h2.0M536.6,218.45h-2.0M400.4,211.66h2.0M536.6,211.66h-2.0M400.4,204.88h2.0M536.6,204.88h-2.0M400.4,198.09h2.0M536.6,198.09h-2.0M400.4,191.31h2.0M536.6,191.31h-2.0M400.4,184.53h2.0M536.6,184.53h-2.0M400.4,177.74h2.0M536.6,177.74h-2.0M400.4,170.95h2.0M536.6,170.95h-2.0M400.4,164.17h2.0M536.6,164.17h-2.0M400.4,157.38h2.0M536.6,157.38h-2.0M400.4,150.6h2.0M536.6,150.6h-2.0" class="tick"/>
<rect x="400.4" y="150.6" width="136.2" height="135.7" class="frame"/>
<g clip-path="url(#c3b)">
<path d="M407.57,211.6V223.2M406.07,211.6h3M406.07,223.2h3M414.74,197.5V209.5M413.24,197.5h3M413.24,209.5h3M421.91,184V194M420.41,184h3M420.41,194h3M429.07,193.9V203.9M427.57,193.9h3M427.57,203.9h3M436.24,179.7V188.3M434.74,179.7h3M434.74,188.3h3M443.41,194.9V202.7M441.91,194.9h3M441.91,202.7h3M450.58,210.2V216.6M449.08,210.2h3M449.08,216.6h3M457.75,212V218M456.25,212h3M456.25,218h3M464.92,219.1V225.1M463.42,219.1h3M463.42,225.1h3M472.08,213.4V219.4M470.58,213.4h3M470.58,219.4h3M479.25,214.3V220.3M477.75,214.3h3M477.75,220.3h3M486.42,229V236.2M484.92,229h3M484.92,236.2h3M493.59,237.7V246.3M492.09,237.7h3M492.09,246.3h3M500.76,246.4V256M499.26,246.4h3M499.26,256h3M507.93,227V239.6M506.43,227h3M506.43,239.6h3M515.09,236.9V246.5M513.59,236.9h3M513.59,246.5h3M522.26,226.5V236.5M520.76,226.5h3M520.76,236.5h3M529.43,220V232.6M527.93,220h3M527.93,232.6h3" class="err"/>
<path d="M400.4,218.3 C401.05,217.75 402.87,216.33 404.3,215 C405.73,213.67 407.43,212 409,210.3 C410.57,208.6 412.12,206.77 413.7,204.8 C415.28,202.83 416.92,200.47 418.5,198.5 C420.08,196.53 421.63,194.53 423.2,193 C424.77,191.47 426.37,190.17 427.9,189.3 C429.43,188.43 430.93,187.78 432.4,187.8 C433.87,187.82 435.2,188.02 436.7,189.4 C438.2,190.78 439.82,193.93 441.4,196.1 C442.98,198.27 444.62,200.3 446.2,202.4 C447.78,204.5 449.33,206.87 450.9,208.7 C452.47,210.53 454.03,212.12 455.6,213.4 C457.17,214.68 458.72,215.7 460.3,216.4 C461.88,217.1 463.37,217.43 465.1,217.6 C466.83,217.77 468.98,217.25 470.7,217.4 C472.42,217.55 473.82,217.68 475.4,218.5 C476.98,219.32 478.62,220.62 480.2,222.3 C481.78,223.98 483.33,226.37 484.9,228.6 C486.47,230.83 488.03,233.6 489.6,235.7 C491.17,237.8 492.72,239.65 494.3,241.2 C495.88,242.75 497.57,244.13 499.1,245 C500.63,245.87 502.12,246.18 503.5,246.4 C504.88,246.62 505.95,246.77 507.4,246.3 C508.85,245.83 510.62,244.97 512.2,243.6 C513.78,242.23 515.33,239.93 516.9,238.1 C518.47,236.27 520.03,234.45 521.6,232.6 C523.17,230.75 524.72,228.72 526.3,227 C527.88,225.28 529.42,223.72 531.1,222.3 C532.78,220.88 535.52,219.13 536.4,218.5" class="fit"/>
</g>
<g class="mk"><ellipse cx="400.4" cy="218.3" rx="2.6" ry="2.45"/><ellipse cx="407.57" cy="217.4" rx="2.6" ry="2.45"/><ellipse cx="414.74" cy="203.5" rx="2.6" ry="2.45"/><ellipse cx="421.91" cy="189" rx="2.6" ry="2.45"/><ellipse cx="429.07" cy="198.9" rx="2.6" ry="2.45"/><ellipse cx="436.24" cy="184" rx="2.6" ry="2.45"/><ellipse cx="443.41" cy="198.8" rx="2.6" ry="2.45"/><ellipse cx="450.58" cy="213.4" rx="2.6" ry="2.45"/><ellipse cx="457.75" cy="215" rx="2.6" ry="2.45"/><ellipse cx="464.92" cy="222.1" rx="2.6" ry="2.45"/><ellipse cx="472.08" cy="216.4" rx="2.6" ry="2.45"/><ellipse cx="479.25" cy="217.3" rx="2.6" ry="2.45"/><ellipse cx="486.42" cy="232.6" rx="2.6" ry="2.45"/><ellipse cx="493.59" cy="242" rx="2.6" ry="2.45"/><ellipse cx="500.76" cy="251.2" rx="2.6" ry="2.45"/><ellipse cx="507.93" cy="233.3" rx="2.6" ry="2.45"/><ellipse cx="515.09" cy="241.7" rx="2.6" ry="2.45"/><ellipse cx="522.26" cy="231.5" rx="2.6" ry="2.45"/><ellipse cx="529.43" cy="226.3" rx="2.6" ry="2.45"/><ellipse cx="536.6" cy="218.4" rx="2.6" ry="2.45"/></g>
<text x="396.8" y="287.4" class="yl">-150</text>
<text x="396.8" y="253.47" class="yl">-75</text>
<text x="396.8" y="219.55" class="yl">0</text>
<text x="396.8" y="185.62" class="yl">75</text>
<text x="399.9" y="301" class="xl">0</text>
<text x="433.95" y="301" class="xl">45</text>
<text x="468" y="301" class="xl">90</text>
<text x="502.05" y="301" class="xl">135</text>
<text x="536.1" y="301" class="xl">180</text>
<clipPath id="c4b"><rect x="572.4" y="150.4" width="136.3" height="135.9"/></clipPath>
<path d="M606.48,150.4V286.3M640.55,150.4V286.3M674.62,150.4V286.3M572.4,272.71H708.7M572.4,245.53H708.7M572.4,218.35H708.7M572.4,191.17H708.7M572.4,163.99H708.7" class="grid"/>
<path d="M572.4,286.3v-2.0M572.4,150.4v2.0M579.22,286.3v-2.0M579.22,150.4v2.0M586.03,286.3v-2.0M586.03,150.4v2.0M592.85,286.3v-2.0M592.85,150.4v2.0M599.66,286.3v-2.0M599.66,150.4v2.0M606.48,286.3v-2.0M606.48,150.4v2.0M613.29,286.3v-2.0M613.29,150.4v2.0M620.11,286.3v-2.0M620.11,150.4v2.0M626.92,286.3v-2.0M626.92,150.4v2.0M633.74,286.3v-2.0M633.74,150.4v2.0M640.55,286.3v-2.0M640.55,150.4v2.0M647.37,286.3v-2.0M647.37,150.4v2.0M654.18,286.3v-2.0M654.18,150.4v2.0M661,286.3v-2.0M661,150.4v2.0M667.81,286.3v-2.0M667.81,150.4v2.0M674.62,286.3v-2.0M674.62,150.4v2.0M681.44,286.3v-2.0M681.44,150.4v2.0M688.25,286.3v-2.0M688.25,150.4v2.0M695.07,286.3v-2.0M695.07,150.4v2.0M701.88,286.3v-2.0M701.88,150.4v2.0M708.7,286.3v-2.0M708.7,150.4v2.0M572.4,286.3h2.0M708.7,286.3h-2.0M572.4,279.5h2.0M708.7,279.5h-2.0M572.4,272.71h2.0M708.7,272.71h-2.0M572.4,265.92h2.0M708.7,265.92h-2.0M572.4,259.12h2.0M708.7,259.12h-2.0M572.4,252.33h2.0M708.7,252.33h-2.0M572.4,245.53h2.0M708.7,245.53h-2.0M572.4,238.74h2.0M708.7,238.74h-2.0M572.4,231.94h2.0M708.7,231.94h-2.0M572.4,225.15h2.0M708.7,225.15h-2.0M572.4,218.35h2.0M708.7,218.35h-2.0M572.4,211.56h2.0M708.7,211.56h-2.0M572.4,204.76h2.0M708.7,204.76h-2.0M572.4,197.97h2.0M708.7,197.97h-2.0M572.4,191.17h2.0M708.7,191.17h-2.0M572.4,184.38h2.0M708.7,184.38h-2.0M572.4,177.58h2.0M708.7,177.58h-2.0M572.4,170.79h2.0M708.7,170.79h-2.0M572.4,163.99h2.0M708.7,163.99h-2.0M572.4,157.2h2.0M708.7,157.2h-2.0M572.4,150.4h2.0M708.7,150.4h-2.0" class="tick"/>
<rect x="572.4" y="150.4" width="136.3" height="135.9" class="frame"/>
<g clip-path="url(#c4b)">
<path d="M579.57,205.2V214.2M578.07,205.2h3M578.07,214.2h3M586.75,200.9V208.3M585.25,200.9h3M585.25,208.3h3M593.92,197.5V205.5M592.42,197.5h3M592.42,205.5h3M601.09,181V190.4M599.59,181h3M599.59,190.4h3M608.27,171.1V179.1M606.77,171.1h3M606.77,179.1h3M615.44,176.2V183.4M613.94,176.2h3M613.94,183.4h3M622.62,180.5V187.9M621.12,180.5h3M621.12,187.9h3M629.79,199.6V205.6M628.29,199.6h3M628.29,205.6h3M636.96,208.7V214.7M635.46,208.7h3M635.46,214.7h3M644.14,209V215M642.64,209h3M642.64,215h3M651.31,199.3V205.3M649.81,199.3h3M649.81,205.3h3M658.48,187.5V193.5M656.98,187.5h3M656.98,193.5h3M665.66,178.7V187.1M664.16,178.7h3M664.16,187.1h3M672.83,176.7V184.7M671.33,176.7h3M671.33,184.7h3M680.01,178.4V186.8M678.51,178.4h3M678.51,186.8h3M687.18,189.3V197.3M685.68,189.3h3M685.68,197.3h3M694.35,194.9V203.3M692.85,194.9h3M692.85,203.3h3M701.53,203.6V212M700.03,203.6h3M700.03,212h3" class="err"/>
<path d="M572.4,218 C573.05,217.75 574.87,217.2 576.3,216.5 C577.73,215.8 579.43,214.98 581,213.8 C582.57,212.62 584.12,210.87 585.7,209.4 C587.28,207.93 588.92,206.72 590.5,205 C592.08,203.28 593.63,201.52 595.2,199.1 C596.77,196.68 598.27,193.38 599.9,190.5 C601.53,187.62 603.37,183.98 605,181.8 C606.63,179.62 608.13,178.05 609.7,177.4 C611.27,176.75 612.82,177.17 614.4,177.9 C615.98,178.63 617.62,179.97 619.2,181.8 C620.78,183.63 622.33,186.02 623.9,188.9 C625.47,191.78 627.03,196.22 628.6,199.1 C630.17,201.98 631.72,204.17 633.3,206.2 C634.88,208.23 636.52,210.28 638.1,211.3 C639.68,212.32 641.57,212.28 642.8,212.3 C644.03,212.32 644.4,212.15 645.5,211.4 C646.6,210.65 647.95,209.58 649.4,207.8 C650.85,206.02 652.62,203.33 654.2,200.7 C655.78,198.07 657.33,194.62 658.9,192 C660.47,189.38 662.03,186.88 663.6,185 C665.17,183.12 666.82,181.65 668.3,180.7 C669.78,179.75 671.1,179.38 672.5,179.3 C673.9,179.22 675.22,179.25 676.7,180.2 C678.18,181.15 679.82,183.03 681.4,185 C682.98,186.97 684.62,189.52 686.2,192 C687.78,194.48 689.33,197.27 690.9,199.9 C692.47,202.53 694.03,205.57 695.6,207.8 C697.17,210.03 698.72,211.85 700.3,213.3 C701.88,214.75 703.7,215.75 705.1,216.5 C706.5,217.25 708.1,217.58 708.7,217.8" class="fit"/>
</g>
<g class="mk"><ellipse cx="572.4" cy="218.3" rx="2.6" ry="2.45"/><ellipse cx="579.57" cy="209.7" rx="2.6" ry="2.45"/><ellipse cx="586.75" cy="204.6" rx="2.6" ry="2.45"/><ellipse cx="593.92" cy="201.5" rx="2.6" ry="2.45"/><ellipse cx="601.09" cy="185.7" rx="2.6" ry="2.45"/><ellipse cx="608.27" cy="175.1" rx="2.6" ry="2.45"/><ellipse cx="615.44" cy="179.8" rx="2.6" ry="2.45"/><ellipse cx="622.62" cy="184.2" rx="2.6" ry="2.45"/><ellipse cx="629.79" cy="202.6" rx="2.6" ry="2.45"/><ellipse cx="636.96" cy="211.7" rx="2.6" ry="2.45"/><ellipse cx="644.14" cy="212" rx="2.6" ry="2.45"/><ellipse cx="651.31" cy="202.3" rx="2.6" ry="2.45"/><ellipse cx="658.48" cy="190.5" rx="2.6" ry="2.45"/><ellipse cx="665.66" cy="182.9" rx="2.6" ry="2.45"/><ellipse cx="672.83" cy="180.7" rx="2.6" ry="2.45"/><ellipse cx="680.01" cy="182.6" rx="2.6" ry="2.45"/><ellipse cx="687.18" cy="193.3" rx="2.6" ry="2.45"/><ellipse cx="694.35" cy="199.1" rx="2.6" ry="2.45"/><ellipse cx="701.53" cy="207.8" rx="2.6" ry="2.45"/><ellipse cx="708.7" cy="218" rx="2.6" ry="2.45"/></g>
<text x="568.8" y="273.81" class="yl">-80</text>
<text x="568.8" y="246.63" class="yl">-40</text>
<text x="568.8" y="219.45" class="yl">0</text>
<text x="568.8" y="192.27" class="yl">40</text>
<text x="568.8" y="165.09" class="yl">80</text>
<text x="571.9" y="301" class="xl">0</text>
<text x="605.98" y="301" class="xl">45</text>
<text x="640.05" y="301" class="xl">90</text>
<text x="674.12" y="301" class="xl">135</text>
<text x="708.2" y="301" class="xl">180</text>
<text x="122.8" y="36.9" class="tS">00</text>
<text x="301.1" y="36.9" class="tS">20</text>
<text x="462.1" y="36.9" class="tS">21</text>
<text x="639.6" y="36.9" class="tS">22</text>
<text x="99.3" y="323.8" class="th">&#952;</text><text x="107.89999999999999" y="326.7" class="the">e</text><text x="118.8" y="323.8" class="deg">(deg)</text>
<text x="273.0" y="323.8" class="th">&#952;</text><text x="281.6" y="326.7" class="the">e</text><text x="292.5" y="323.8" class="deg">(deg)</text>
<text x="444.5" y="324.8" class="th">&#952;</text><text x="453.1" y="327.7" class="the">e</text><text x="464.0" y="324.8" class="deg">(deg)</text>
<text x="615.3" y="323.8" class="th">&#952;</text><text x="623.9" y="326.7" class="the">e</text><text x="634.8" y="323.8" class="deg">(deg)</text>
</svg>
</body></html>
